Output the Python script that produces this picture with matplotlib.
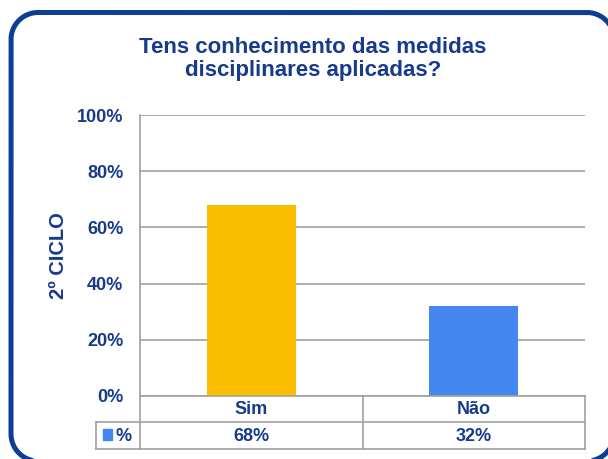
import matplotlib
matplotlib.use("Agg")
import matplotlib.pyplot as plt
import numpy as np
from matplotlib.patches import Rectangle
from matplotlib.lines import Line2D

categories = ["Sim", "Não"]
values = [68, 32]
value_labels = ["68%", "32%"]
series_name = "%"
yticks = [0, 20, 40, 60, 80, 100]
ytick_labels = ["0%", "20%", "40%", "60%", "80%", "100%"]
title = "Tens conhecimento das medidas\ndisciplinares aplicadas?"
ylabel = "2º CICLO"

W, H = 608, 459
TXT = "#173a8c"
BORDER = "#0d3d96"
GRID = "#a0a0a0"
bar_colors = ["#fabd00", "#4587f0"]

plt.rcParams["font.family"] = ["Liberation Sans", "DejaVu Sans"]
fig = plt.figure(figsize=(W / 100, H / 100), dpi=100)

def fx(px):
    return px / W

def fy(py):
    return 1 - py / H

# rounded border: outline in pixel space, only the parts inside the canvas
def rounded_rect(l, t, r, b, rad, n=80):
    pts = []
    corners = [((l + rad, b - rad), 90, 180), ((l + rad, t + rad), 180, 270),
               ((r - rad, t + rad), 270, 360), ((r - rad, b - rad), 0, 90)]
    for (cx, cy), a0, a1 in corners:
        a = np.radians(np.linspace(a0, a1, n))
        pts += list(zip(cx + rad * np.cos(a), cy + rad * np.sin(a)))
    return pts

outline = rounded_rect(11, 12.5, 614, 461, 27)
runs, cur = [], []
for px, py in outline:
    if px <= W + 1 and py <= H + 1:
        cur.append((px, py))
    elif cur:
        runs.append(cur)
        cur = []
if cur:
    runs.append(cur)
for run in runs:
    if len(run) > 1:
        fig.add_artist(Line2D([fx(p[0]) for p in run], [fy(p[1]) for p in run],
                              color=BORDER, linewidth=3.6,
                              transform=fig.transFigure, zorder=-1))

ax_l, ax_r, ax_t, ax_b = 140, 585, 115, 396
ax = fig.add_axes([fx(ax_l), fy(ax_b), fx(ax_r - ax_l), (ax_b - ax_t) / H])
ax.patch.set_alpha(0)
x = list(range(len(categories)))
ax.bar(x, values, width=0.40, color=bar_colors, zorder=3)
ax.set_xlim(-0.5, len(categories) - 0.5)
ax.set_ylim(0, 100)
ax.set_yticks(yticks)
ax.set_yticklabels(ytick_labels, fontsize=13, fontweight="bold", color=TXT)
ax.tick_params(axis="y", length=0, pad=12)
ax.set_xticks([])
ax.yaxis.grid(True, color=GRID, linewidth=1.2, zorder=0)
for s in ["top", "right", "bottom"]:
    ax.spines[s].set_visible(False)
ax.spines["left"].set_color(GRID)
ax.spines["left"].set_linewidth(1.2)
ax.set_ylabel(ylabel, fontsize=14.5, fontweight="bold", color=TXT)
ax.yaxis.set_label_coords((68 - ax_l) / (ax_r - ax_l), 0.5)

fig.text(fx(313), fy(59), title, ha="center", va="center", fontsize=16,
         fontweight="bold", color=TXT, linespacing=1.12)

# data table below axes
t_top, t_mid, t_bot = 396, 422, 449
lab_l = 96
n = len(categories)
col_w = (ax_r - ax_l) / n
lines = [
    ((ax_l, ax_r), (t_top, t_top)),
    ((lab_l, ax_r), (t_mid, t_mid)),
    ((lab_l, ax_r), (t_bot, t_bot)),
    ((lab_l, lab_l), (t_mid, t_bot)),
    ((ax_l, ax_l), (t_top, t_bot)),
    ((ax_r, ax_r), (t_top, t_bot)),
]
for i in range(1, n):
    xc = ax_l + col_w * i
    lines.append(((xc, xc), (t_top, t_bot)))
for (xs, ys) in lines:
    fig.add_artist(Line2D([fx(v) for v in xs], [fy(v) for v in ys],
                          color=GRID, linewidth=1.2, transform=fig.transFigure))
for i, (c, v) in enumerate(zip(categories, value_labels)):
    xc = ax_l + col_w * (i + 0.5)
    fig.text(fx(xc), fy((t_top + t_mid) / 2 + 1), c, ha="center", va="center",
             fontsize=13, fontweight="bold", color=TXT)
    fig.text(fx(xc), fy((t_mid + t_bot) / 2 + 1), v, ha="center", va="center",
             fontsize=13, fontweight="bold", color=TXT)
fig.add_artist(Rectangle((fx(103), fy(440)), fx(9), 11 / H,
                         transform=fig.transFigure, color=bar_colors[1]))
fig.text(fx(115), fy((t_mid + t_bot) / 2 + 1), series_name, ha="left", va="center",
         fontsize=13, fontweight="bold", color=TXT)

fig.savefig("out.png", dpi=100)
